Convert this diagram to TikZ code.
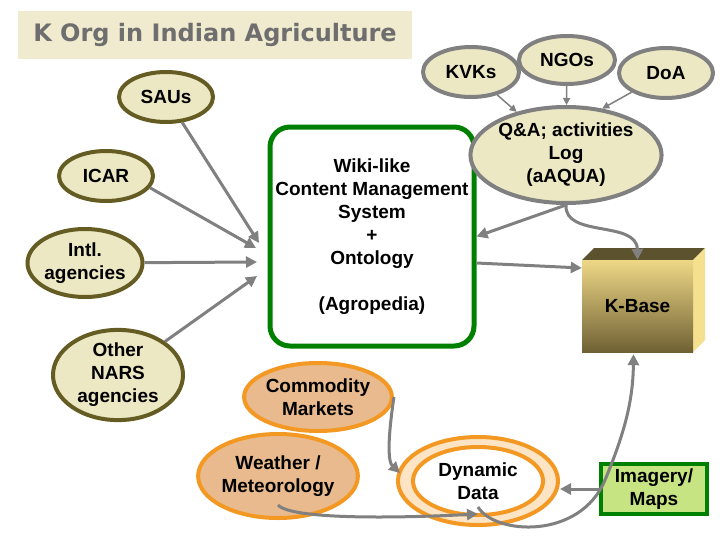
\documentclass[tikz,border=0pt]{standalone}
\usepackage{fontspec}
\setmainfont{Liberation Sans}
\newfontfamily\titlefont{DejaVu Sans}
\usetikzlibrary{shapes.geometric,arrows.meta}
\definecolor{titlebg}{RGB}{240,234,206}
\definecolor{titlegray}{RGB}{110,110,110}
\definecolor{beigefill}{RGB}{236,232,196}
\definecolor{olivedge}{RGB}{100,92,35}
\definecolor{grayedge}{RGB}{128,128,128}
\definecolor{arrgray}{RGB}{128,128,128}
\definecolor{orangeedge}{RGB}{243,153,35}
\definecolor{tanfill}{RGB}{232,186,142}
\definecolor{ringfill}{RGB}{252,228,196}
\definecolor{boxgreen}{RGB}{0,128,0}
\definecolor{lightgreen}{RGB}{198,228,130}
\definecolor{cubetop}{RGB}{92,82,45}
\definecolor{cubeside}{RGB}{244,224,142}
\definecolor{cubefronttop}{RGB}{238,216,134}
\definecolor{cubefrontbot}{RGB}{112,97,52}
\begin{document}
\begin{tikzpicture}[x=1pt,y=-1pt,
  lbl/.style={font=\fontsize{19}{23}\selectfont\bfseries, align=center, text=black},
  olv/.style={ellipse, draw=olivedge, fill=beigefill, line width=4pt, inner sep=0pt, lbl},
  gry/.style={ellipse, draw=grayedge, fill=beigefill, line width=4pt, inner sep=0pt, lbl},
  org/.style={ellipse, draw=orangeedge, fill=tanfill, line width=4pt, inner sep=0pt, lbl},
  arr/.style={draw=arrgray, line width=3pt, -{Triangle[length=11pt,width=11pt]}},
  tarr/.style={draw=arrgray, line width=1.5pt, -{Triangle[length=7pt,width=7pt]}}
]
\fill[white] (0,0) rectangle (728,546);
\useasboundingbox (0,0) rectangle (728,546);

% title
\node[fill=titlebg, minimum width=394, minimum height=48, inner sep=0pt] (title) at (215,35)
  {\titlefont\fontsize{24}{28}\selectfont\bfseries\color{titlegray}K Org in Indian Agriculture};

% left ellipses
\node[olv, minimum width=94, minimum height=50] (saus) at (166,97) {SAUs};
\node[olv, minimum width=94, minimum height=50] (icar) at (106,176) {ICAR};
\node[olv, minimum width=112, minimum height=68] (intl) at (85,263) {Intl.\\agencies};
\node[olv, minimum width=130, minimum height=86] (nars) at (118,375) {Other\\NARS\\agencies};

% central box
\node[rectangle, rounded corners=20pt, draw=boxgreen, line width=5pt, fill=white,
  minimum width=204, minimum height=219, lbl] (wiki) at (372,236.5)
  {Wiki-like\\Content Management\\System\\+\\Ontology\\[23pt](Agropedia)};

% top right
\node[gry, minimum width=96, minimum height=50] (kvk) at (471,72) {KVKs};
\node[gry, minimum width=96, minimum height=48] (ngo) at (567,60) {NGOs};
\node[gry, minimum width=94, minimum height=50] (doa) at (666,73) {DoA};
\node[gry, minimum width=166, minimum height=96] (qa) at (566,155) {Q\&A; activities\\Log\\(aAQUA)};

% K-Base cube
\fill[cubetop] (582,260) -- (594,248) -- (705,248) -- (693,260) -- cycle;
\fill[cubeside] (693,260) -- (705,248) -- (705,340) -- (693,352) -- cycle;
\node[rectangle, minimum width=111, minimum height=92, inner sep=0pt,
  top color=cubefronttop, bottom color=cubefrontbot, lbl] (kbase) at (637.5,306) {K-Base};

% bottom
\node[org, minimum width=128, minimum height=68] (comm) at (318,397) {Commodity\\Markets};
\node[org, minimum width=136, minimum height=84] (wthr) at (278,476) {Weather /\\Meteorology};
\node[ellipse, draw=orangeedge, fill=ringfill, line width=4pt, minimum width=160, minimum height=88, inner sep=0pt] (dyn) at (478,481) {};
\node[ellipse, draw=orangeedge, fill=white, line width=4pt, minimum width=130, minimum height=68, inner sep=0pt, lbl] (dynin) at (478,481) {Dynamic\\Data};
\node[rectangle, draw=boxgreen, fill=lightgreen, line width=4pt, minimum width=106, minimum height=50, inner sep=0pt, lbl] (img) at (654,489) {Imagery/\\Maps};

% free ends
\coordinate (c1) at (259,243);
\coordinate (c2) at (256,248);
\coordinate (c3) at (257,262);
\coordinate (c4) at (257,276);
\coordinate (dynl) at (400,473);

% connectors
\draw[arr] (saus) -- (c1);
\draw[arr] (icar.-15) -- (c2);
\draw[arr] (intl) -- (c3);
\draw[arr] (nars) -- (c4);
\draw[tarr] (kvk) -- (qa);
\draw[tarr] (ngo) -- (qa);
\draw[tarr] (doa) -- (qa.52);
\draw[arr] (qa.south) -- (wiki.east);
\draw[arr] (qa.south) .. controls (564,238) and (637,220) .. (kbase.north);
\draw[arr] ([yshift=-26.5pt]wiki.east) -- ([yshift=38pt]kbase.west);
\draw[arr] (comm.east) .. controls (394,398) and (384,458) .. (dynl);
\draw[arr] ([yshift=-29pt]wthr.center) .. controls (292,520) and (400,518) .. ([yshift=3pt]dynin.south);
\draw[arr] (img.west) -- (dyn.east |- img.west);
\draw[arr] ([yshift=-26pt]dyn.center) .. controls (495,535) and (580,540) .. (605,480)
  .. controls (625,432) and (633,400) .. ([shift={(-4pt,-2pt)}]kbase.south);
\end{tikzpicture}
\end{document}
